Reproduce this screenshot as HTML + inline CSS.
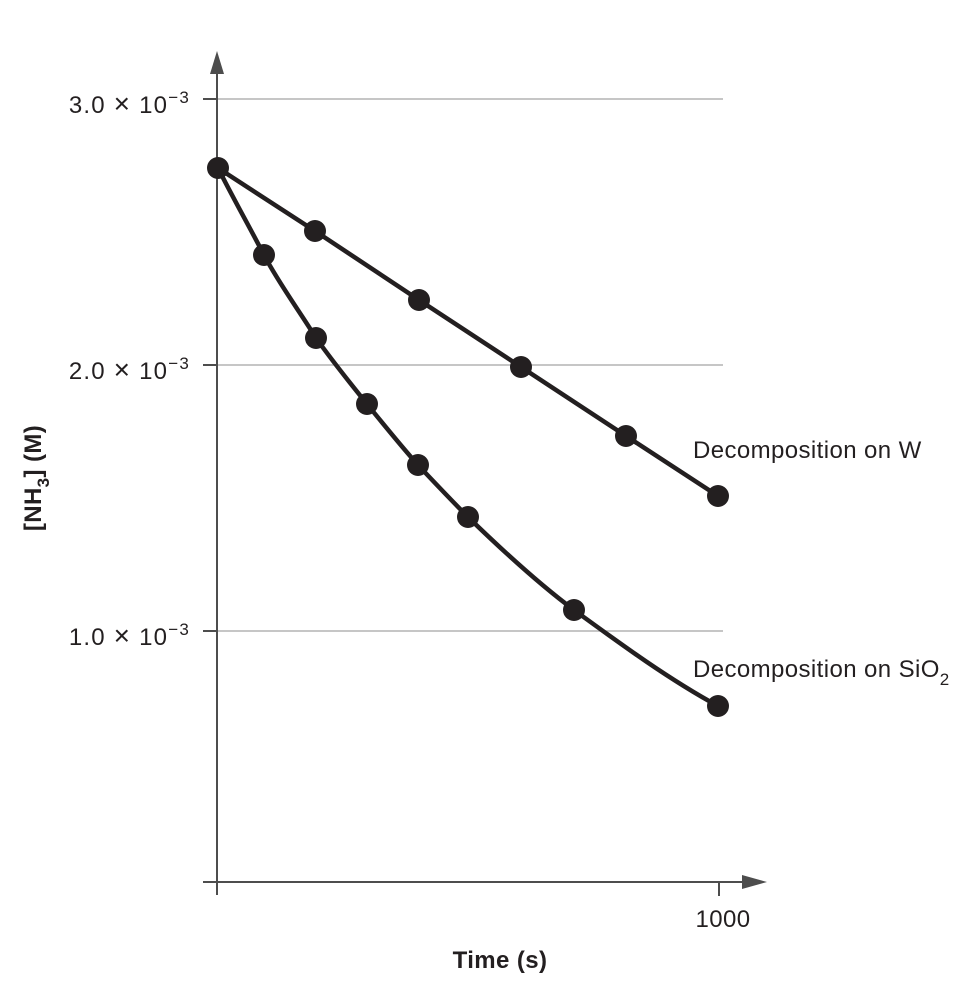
<!DOCTYPE html>
<html><head><style>body{margin:0;background:#fff}</style></head><body>
<svg width="975" height="985" xmlns="http://www.w3.org/2000/svg" font-family="Liberation Sans, sans-serif">
<g stroke="#b3b3b3" stroke-width="1.5">
<line x1="217" y1="99" x2="723" y2="99"/>
<line x1="217" y1="365" x2="723" y2="365"/>
<line x1="217" y1="631" x2="723" y2="631"/>
</g>
<g stroke="#4d4d4d" stroke-width="2">
<line x1="217" y1="70" x2="217" y2="895"/>
<line x1="203" y1="882" x2="745" y2="882"/>
<line x1="203" y1="99" x2="217" y2="99"/>
<line x1="203" y1="365" x2="217" y2="365"/>
<line x1="203" y1="631" x2="217" y2="631"/>
<line x1="719" y1="882" x2="719" y2="896"/>
</g>
<polygon points="217,51 210,74 224,74" fill="#4d4d4d"/>
<polygon points="767,882 742,875 742,889" fill="#4d4d4d"/>
<g fill="none" stroke="#231f20" stroke-width="4.5" stroke-linejoin="round">
<polyline points="218,168 315,231 419,300 521,367 626,436 718,496"/>
<path d="M218,168 C232,196 250,228 264,255 C278,282 300,312 316,338 C333,362 350,383 367,404 C384,425 401,446 418,465 C434,482 451,500 468,517 C503,551 539,584 574,610 C622,645 670,680 718,706"/>
</g>
<g fill="#231f20">
<circle cx="218" cy="168" r="11"/>
<circle cx="315" cy="231" r="11"/><circle cx="419" cy="300" r="11"/><circle cx="521" cy="367" r="11"/><circle cx="626" cy="436" r="11"/><circle cx="718" cy="496" r="11"/>
<circle cx="264" cy="255" r="11"/><circle cx="316" cy="338" r="11"/><circle cx="367" cy="404" r="11"/><circle cx="418" cy="465" r="11"/><circle cx="468" cy="517" r="11"/><circle cx="574" cy="610" r="11"/><circle cx="718" cy="706" r="11"/>
</g>
<g fill="#231f20" font-size="24" letter-spacing="0.4">
<text x="190" y="113" text-anchor="end" letter-spacing="1.2">3.0 <tspan font-size="28">×</tspan> 10<tspan dy="-10" font-size="17">−3</tspan></text>
<text x="190" y="379" text-anchor="end" letter-spacing="1.2">2.0 <tspan font-size="28">×</tspan> 10<tspan dy="-10" font-size="17">−3</tspan></text>
<text x="190" y="645" text-anchor="end" letter-spacing="1.2">1.0 <tspan font-size="28">×</tspan> 10<tspan dy="-10" font-size="17">−3</tspan></text>
<text x="723" y="927" text-anchor="middle">1000</text>
<text x="693" y="458">Decomposition on W</text>
<text x="693" y="677">Decomposition on SiO<tspan dy="8" font-size="17">2</tspan></text>
<text x="500" y="968" text-anchor="middle" font-weight="bold">Time (s)</text>
<text transform="translate(41,478) rotate(-90)" text-anchor="middle" font-weight="bold">[NH<tspan dy="8" font-size="17">3</tspan><tspan dy="-8">] (M)</tspan></text>
</g>
</svg>
</body></html>
